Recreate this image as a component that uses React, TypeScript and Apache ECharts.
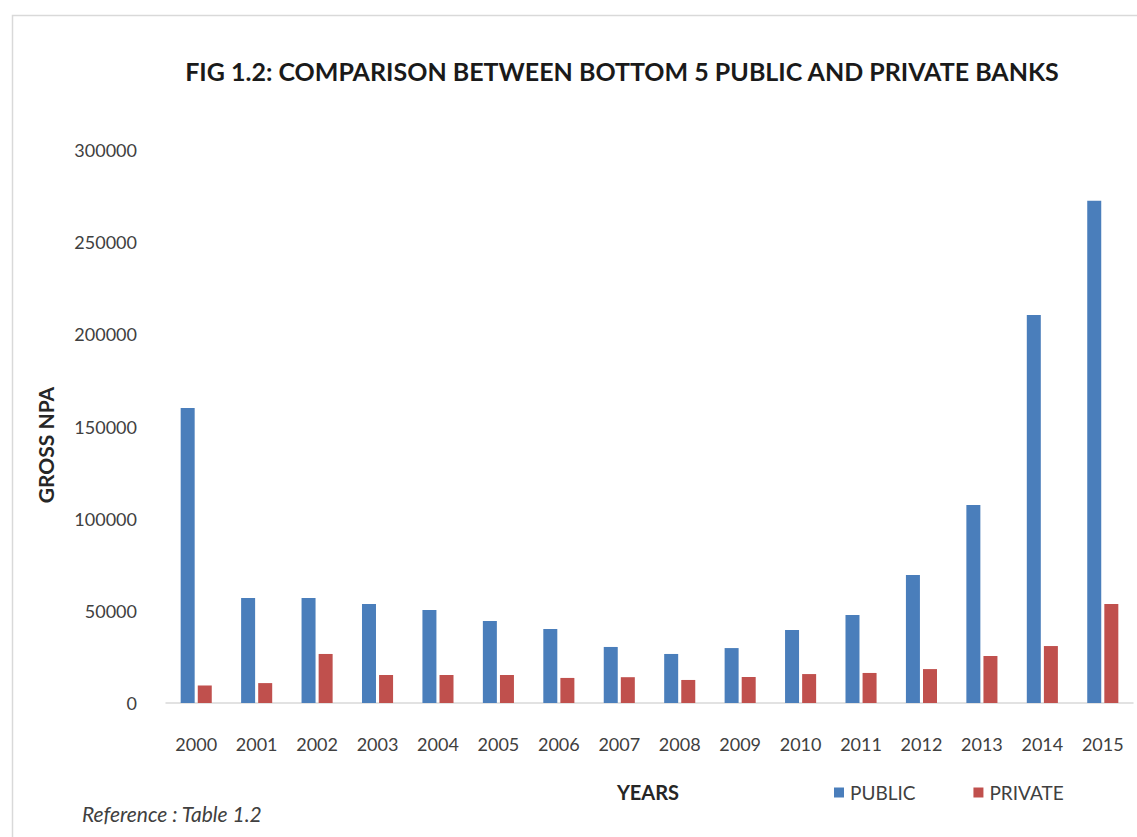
import React, { useEffect, useRef } from "react";
import * as echarts from "echarts";

const years = ["2000","2001","2002","2003","2004","2005","2006","2007","2008","2009","2010","2011","2012","2013","2014","2015"];
const publicNpa = [160000, 57000, 57000, 53700, 50500, 44500, 40100, 30400, 26600, 29800, 39600, 47700, 69400, 107400, 210500, 272500];
const privateNpa = [9500, 10800, 26600, 15200, 15200, 15200, 13600, 14000, 12500, 14100, 15700, 16300, 18400, 25500, 30900, 53700];
const yTicks = { min: 0, max: 300000, interval: 50000 };

const FONT = "Lato";
const TXT = "#404040";

export default function App() {
  const ref = useRef<HTMLDivElement>(null);
  useEffect(() => {
    document.body.style.margin = "0";
    const chart = echarts.init(ref.current!, null, { renderer: "svg" });
    chart.setOption({
      animation: false,
      backgroundColor: "#ffffff",
      title: {
        text: "FIG 1.2: COMPARISON BETWEEN BOTTOM 5 PUBLIC AND PRIVATE BANKS",
        left: 617,
        top: 53,
        textAlign: "center",
        textStyle: { fontFamily: FONT, fontWeight: "bold", fontSize: 25, color: "#1a1a1a" },
      },
      legend: {
        left: 829,
        top: 778,
        itemWidth: 10,
        itemHeight: 10,
        itemGap: 58,
        icon: "rect",
        textStyle: { fontFamily: FONT, fontSize: 19, color: TXT, padding: [0, 0, 0, 1] },
        data: ["PUBLIC", "PRIVATE"],
      },
      grid: { left: 166, right: 4, top: 150, bottom: 134, containLabel: false },
      xAxis: {
        type: "category",
        data: years,
        axisLine: { show: true, lineStyle: { color: "#d9d9d9", width: 1.5 } },
        axisTick: { show: false },
        axisLabel: { fontFamily: FONT, fontSize: 18, color: TXT, margin: 32 },
      },
      yAxis: {
        type: "value",
        min: yTicks.min,
        max: yTicks.max,
        interval: yTicks.interval,
        axisLine: { show: false },
        axisTick: { show: false },
        splitLine: { show: false },
        axisLabel: {
          fontFamily: FONT,
          fontSize: 18,
          color: TXT,
          margin: 29,
          formatter: (v: number) => String(v),
        },
      },
      series: [
        {
          name: "PUBLIC",
          type: "bar",
          data: publicNpa,
          barWidth: 14,
          barGap: "22%",
          itemStyle: { color: "#4a7ebb" },
        },
        {
          name: "PRIVATE",
          type: "bar",
          data: privateNpa,
          barWidth: 14,
          barGap: "22%",
          itemStyle: { color: "#c0504d" },
        },
      ],
      graphic: [
        {
          type: "rect",
          shape: { x: 12.5, y: 15.5, width: 1140, height: 840 },
          style: { fill: "none", stroke: "#d9d9d9", lineWidth: 1.5 },
          silent: true,
          z: -1,
        },
        {
          type: "text",
          x: 45,
          y: 445,
          rotation: Math.PI / 2,
          style: {
            text: "GROSS NPA",
            fontFamily: FONT,
            fontWeight: "bold",
            fontSize: 21,
            fill: "#262626",
            align: "center",
            verticalAlign: "middle",
          },
        },
        {
          type: "text",
          x: 648,
          y: 792,
          style: {
            text: "YEARS",
            fontFamily: FONT,
            fontWeight: "bold",
            fontSize: 20,
            fill: "#262626",
            align: "center",
            verticalAlign: "middle",
          },
        },
        {
          type: "text",
          x: 82,
          y: 813,
          style: {
            text: "Reference : Table 1.2",
            fontFamily: FONT,
            fontStyle: "italic",
            fontSize: 21,
            fill: TXT,
            align: "left",
            verticalAlign: "middle",
          },
        },
      ],
    });
    return () => chart.dispose();
  }, []);
  return <div ref={ref} style={{ position: "fixed", left: 0, top: 0, width: 1137, height: 837 }} />;
}
